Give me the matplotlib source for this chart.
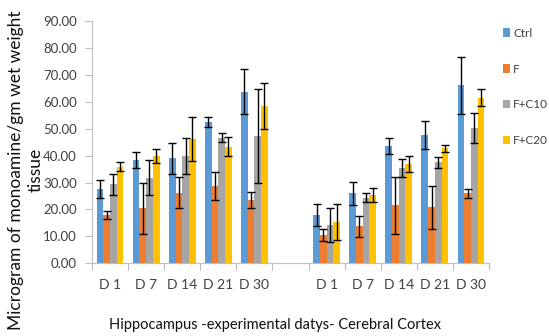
import matplotlib
matplotlib.use("Agg")
import matplotlib.pyplot as plt
import numpy as np

plt.rcParams['font.family'] = ['Lato', 'DejaVu Sans']

categories = ["D 1", "D 7", "D 14", "D 21", "D 30", "", "D 1", "D 7", "D 14", "D 21", "D 30"]
series_names = ["Ctrl", "F", "F+C10", "F+C20"]
ctrl = [27.5, 38.4, 39.0, 52.5, 63.7, None, 17.8, 26.0, 43.6, 47.8, 66.1]
f = [17.9, 20.4, 26.2, 28.7, 23.5, None, 10.4, 13.7, 21.5, 20.8, 26.0]
fc10 = [29.3, 31.8, 40.0, 46.7, 47.3, None, 14.2, 24.4, 35.3, 37.5, 50.3]
fc20 = [35.9, 40.0, 46.1, 43.3, 58.4, None, 15.3, 25.4, 36.9, 42.8, 61.5]
ctrl_err = [3.4, 3.1, 5.8, 2.0, 8.4, None, 4.1, 4.3, 2.9, 5.2, 10.6]
f_err = [1.6, 9.4, 5.7, 5.3, 2.9, None, 2.2, 3.8, 10.7, 8.0, 1.6]
fc10_err = [3.9, 6.4, 6.7, 1.8, 17.6, None, 6.4, 1.8, 3.3, 2.1, 5.6]
fc20_err = [1.8, 2.6, 8.1, 3.5, 8.5, None, 6.6, 2.5, 3.0, 1.3, 3.1]
colors = ["#5B9BD5", "#ED7D31", "#A5A5A5", "#FFC000"]
yticks = [0, 10, 20, 30, 40, 50, 60, 70, 80, 90]

fig = plt.figure(figsize=(5.49, 3.36), dpi=100)
ax = fig.add_axes([92/549, 1-263.3/336, (489-92)/549, (263.3-21)/336])

idx = np.array([i for i, v in enumerate(ctrl) if v is not None])
w = 0.186
all_vals = [ctrl, f, fc10, fc20]
all_err = [ctrl_err, f_err, fc10_err, fc20_err]
handles = []
for k, (vals, errs, c, name) in enumerate(zip(all_vals, all_err, colors, series_names)):
    v = np.array([vals[i] for i in idx])
    e = np.array([errs[i] for i in idx])
    b = ax.bar(idx + (k - 1.5) * w, v, width=w, color=c, label=name, zorder=2)
    ax.errorbar(idx + (k - 1.5) * w, v, yerr=e, fmt='none', ecolor='black',
                elinewidth=1.0, capsize=3.2, capthick=1.0, zorder=3)
    handles.append(b)

ax.set_xlim(-0.5, 10.5)
ax.set_ylim(0, 90)
ax.set_yticks(yticks)
ax.set_yticklabels([f"{t:.2f}" for t in yticks], fontsize=9.5, color="#404040")
ax.set_xticks(np.arange(-0.5, 11, 1.0))
ax.set_xticklabels([])
ax.set_xticks(np.arange(0, 11), minor=True)
ax.set_xticklabels(categories, minor=True, fontsize=10, color="#404040")
ax.tick_params(axis='x', which='minor', length=0, pad=11)
ax.tick_params(axis='x', which='major', length=5, color="#BFBFBF", direction='out')
ax.tick_params(axis='y', length=5, color="#BFBFBF", direction='out', pad=6)

for s in ['top', 'right']:
    ax.spines[s].set_visible(False)
for s in ['left', 'bottom']:
    ax.spines[s].set_color("#BFBFBF")
    ax.spines[s].set_linewidth(0.8)

ax.set_ylabel("Microgram of monoamine/gm wet weight\ntissue", fontsize=12.5, color="#111111",
              linespacing=1.3)
ax.yaxis.set_label_coords((44 - 92) / 397, (263.3 - 170) / 242.3)
ax.set_xlabel("Hippocampus -experimental datys- Cerebral Cortex", fontsize=10.5,
              color="#111111")
ax.xaxis.set_label_coords((275 - 92) / 397, -(318 - 263.3) / 242.3)
ax.xaxis.label.set_va('top')

leg = fig.legend(handles=handles, labels=series_names, loc='upper left',
                 bbox_to_anchor=(498/549, 1-23/336), frameon=False, fontsize=8.5,
                 handlelength=0.6, handleheight=0.7, handletextpad=0.3,
                 labelspacing=2.1, borderaxespad=0)
for t in leg.get_texts():
    t.set_color("#404040")

fig.savefig("out.png", dpi=100)
